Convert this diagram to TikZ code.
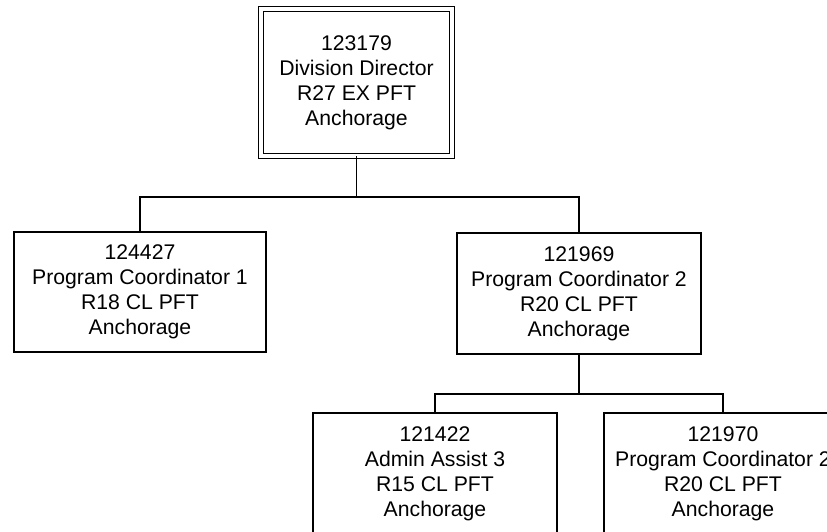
\documentclass[tikz,border=0pt]{standalone}
\usepackage{fontspec}
\setmainfont{Liberation Sans}
\usetikzlibrary{positioning}

\begin{document}
\begin{tikzpicture}[
  x=1pt, y=-1pt,
  post/.style={draw, line width=1.5pt, align=center, minimum width=244pt,
    minimum height=121pt, inner sep=0pt, outer sep=0pt,
    font=\fontsize{21.2}{25}\selectfont},
  head/.style={post, double, double distance=3.4pt, line width=1.4pt,
    minimum width=191pt, minimum height=147pt},
  link/.style={line width=1.5pt}
]
\useasboundingbox (0,0) rectangle (827,531);
\clip (0,0) rectangle (827,531);
\node[head] (director) at (356.5,82.5) {123179\\Division Director\\R27 EX PFT\\Anchorage};
\node[post, minimum width=252pt, minimum height=120pt] (coord1) at (140,292) {124427\\Program Coordinator 1\\R18 CL PFT\\Anchorage};
\node[post] (coord2) at (579,293.5) {121969\\Program Coordinator 2\\R20 CL PFT\\Anchorage};
\node[post] (admin) at (435,473.5) {121422\\Admin Assist 3\\R15 CL PFT\\Anchorage};
\node[post, minimum width=238pt] (coord3) at (723,473.5) {121970\\Program Coordinator 2\\R20 CL PFT\\Anchorage};
\coordinate (split1) at (356.5,197);
\coordinate (split2) at (579,394);
\draw[link] (director.south) -- (split1);
\draw[link] (split1) -| (coord1.north);
\draw[link] (split1) -| (coord2.north);
\draw[link] (coord2.south) -- (split2);
\draw[link] (split2) -| (admin.north);
\draw[link] (split2) -| (coord3.north);
\end{tikzpicture}
\end{document}
